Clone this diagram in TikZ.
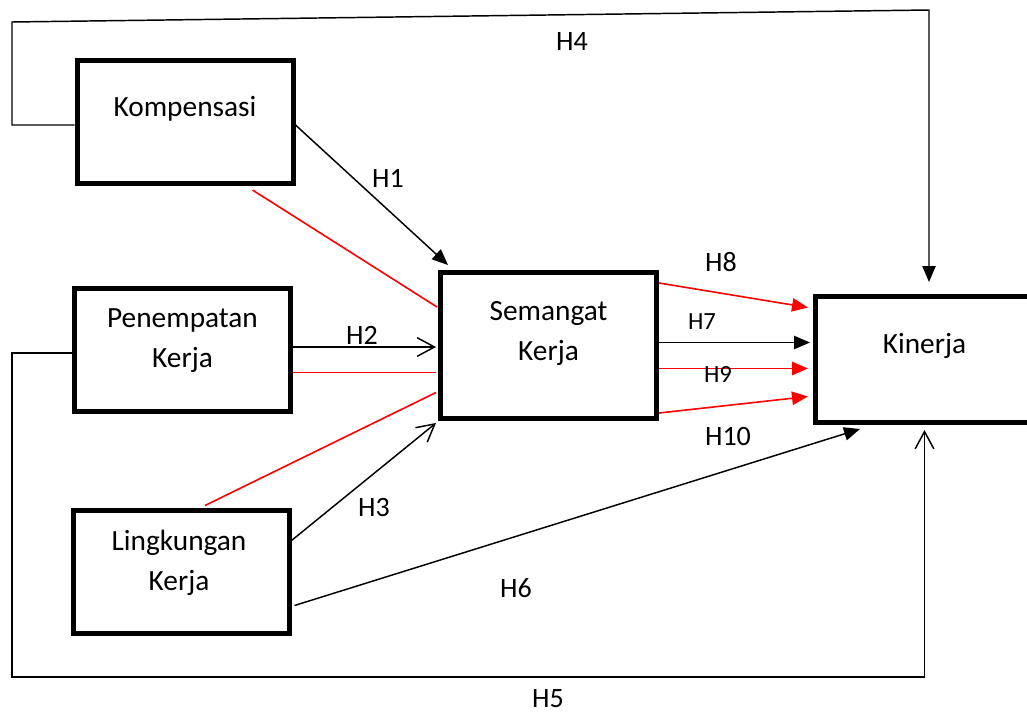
\documentclass[tikz,border=0pt]{standalone}
\usepackage{fontspec}
\setmainfont{Carlito}
\usetikzlibrary{arrows.meta,calc}
\begin{document}
\begin{tikzpicture}[x=0.75pt,y=-0.75pt,
  box/.style={draw,line width=3.75pt,inner sep=0pt,minimum width=162pt,minimum height=92.25pt},
  txt/.style={align=center,inner sep=0pt,font=\fontsize{22}{30}\selectfont},
  hlab/.style={inner sep=0pt,font=\fontsize{21}{25}\selectfont},
  hsmall/.style={inner sep=0pt,font=\fontsize{18.5}{22}\selectfont},
  conn/.style={line width=1.1pt},
  redconn/.style={line width=1.2pt,draw=red},
  solidtip/.style={-{Triangle[length=12pt,width=10pt]}},
  redtip/.style={-{Triangle[length=12pt,width=10pt,fill=red]}},
  opentip/.style={-{Straight Barb[length=13pt,width=14pt,line width=1.1pt]}}
]
\useasboundingbox (0,0) rectangle (1027,711);
\clip (0,0) rectangle (1027,711);

% boxes
\node[box] (komp) at (185,122) {};
\node[box] (pen) at (182.5,349.5) {};
\node[box] (ling) at (181,571.5) {};
\node[box,minimum height=109.5pt] (sem) at (548.5,345.5) {};
\node[box,minimum width=165pt,minimum height=94.5pt] (kin) at (925.5,359.5) {};

% box texts
\node[txt] (kompT) at ($(komp.center)+(0,-13)$) {Kompensasi};
\node[txt] (penT) at ($(pen.center)+(0,-9)$) {Penempatan\\Kerja};
\node[txt] (lingT) at ($(ling.center)+(-2,-9)$) {Lingkungan\\Kerja};
\node[txt] (semT) at ($(sem.center)+(0,-12)$) {Semangat\\Kerja};
\node[txt] (kinT) at ($(kin.center)+(-1,-14)$) {Kinerja};

% outer loops
\draw[conn,solidtip] ($(komp.west)+(0,3)$) -| (12,22) -- (929,10) -- ($(kin.north)+(3.5,-12)$);
\draw[conn,opentip] ($(pen.west)+(0,3.5)$) -| (12,677) -| ($(kin.south)+(-1,5)$);

% paths into Semangat Kerja
\draw[conn,solidtip] ($(komp.east)+(0,3)$) -- ($(sem.north west)+(10,-5)$);
\draw[redconn] ($(komp.south east)+(-43,4)$) -- ($(sem.west)+(-1,-38.5)$);
\draw[conn,opentip] ($(pen.east)+(0,-2.5)$) -- ($(sem.west)+(-2,1.5)$);
\draw[redconn] ($(pen.east)+(0,23)$) -- ($(sem.west)+(-2,27)$);
\draw[redconn] ($(ling.north)+(24,-2)$) -- ($(sem.west)+(-2,47)$);
\draw[conn,opentip] ($(ling.east)+(0,-31)$) -- ($(sem.south west)+(-2,2)$);

% paths into Kinerja
\draw[conn,solidtip] ($(ling.east)+(3,34)$) -- ($(kin.south west)+(47,4)$);
\draw[redconn,redtip] ($(sem.north east)+(0,13)$) -- ($(kin.west)+(-5,-52)$);
\draw[conn,solidtip] ($(sem.east)+(0,-3)$) -- ($(kin.west)+(-3,-17)$);
\draw[redconn,redtip] ($(sem.east)+(0,23)$) -- ($(kin.west)+(-5,9)$);
\draw[redconn,redtip] ($(sem.south east)+(0,-8)$) -- ($(kin.west)+(-5,37)$);

% hypothesis labels
\node[hlab] (h4) at (572,42) {H4};
\node[hlab] (h1) at (388,178) {H1};
\node[hlab] (h2) at (362,335) {H2};
\node[hlab] (h3) at (374,507) {H3};
\node[hlab] (h6) at (516,588) {H6};
\node[hlab] (h5) at (548,699) {H5};
\node[hlab] (h10) at (728,437) {H10};
\node[hlab] (h8) at (721,262) {H8};
\node[hsmall] (h7) at (702,322) {H7};
\node[hsmall] (h9) at (718,374) {H9};
\end{tikzpicture}
\end{document}
